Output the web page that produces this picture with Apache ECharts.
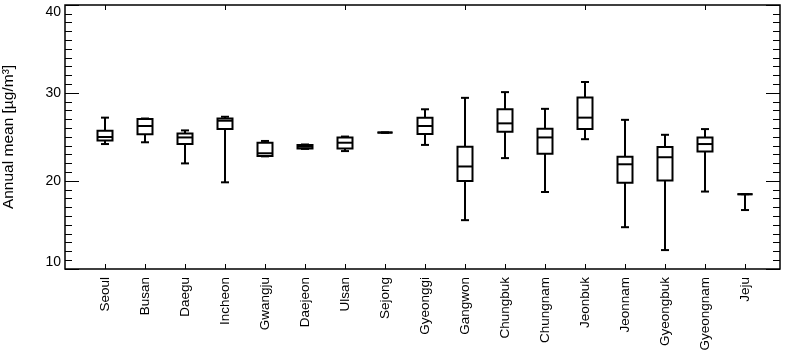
<!DOCTYPE html>
<html>
<head>
<meta charset="utf-8">
<script src="https://cdn.jsdelivr.net/npm/echarts@6/dist/echarts.min.js"></script>
<style>
html,body{margin:0;padding:0;background:#fff;}
#chart{width:787px;height:355px;}
</style>
</head>
<body>
<div id="chart"></div>
<script>
const categories = ['Seoul','Busan','Daegu','Incheon','Gwangju','Daejeon','Ulsan','Sejong','Gyeonggi','Gangwon','Chungbuk','Chungnam','Jeonbuk','Jeonnam','Gyeongbuk','Gyeongnam','Jeju'];
const minVals    = [24.2, 24.4, 22.0, 19.85, 22.8, 23.65, 23.4, 25.5, 24.1, 15.55, 22.6, 18.75, 24.75, 14.75, 12.15, 18.8, 16.7];
const q1Vals     = [24.6, 25.3, 24.2, 25.9, 22.85, 23.7, 23.7, 25.5, 25.35, 20.0, 25.6, 23.1, 25.9, 19.8, 20.05, 23.35, 18.5];
const medianVals = [25.0, 26.25, 24.95, 26.85, 23.15, 23.9, 24.35, 25.5, 26.25, 21.65, 26.55, 24.95, 27.2, 21.9, 22.7, 24.2, 18.5];
const q3Vals     = [25.7, 27.05, 25.4, 27.1, 24.35, 24.1, 24.95, 25.5, 27.2, 23.9, 28.15, 25.95, 29.5, 22.75, 23.85, 24.95, 18.5];
const maxVals    = [27.2, 27.1, 25.75, 27.3, 24.55, 24.15, 25.05, 25.5, 28.15, 29.45, 30.1, 28.2, 31.25, 26.95, 25.25, 25.9, 18.5];
const yTicks = [10, 20, 30, 40];

const boxData = categories.map((c, i) => [i, minVals[i], q1Vals[i], medianVals[i], q3Vals[i], maxVals[i]]);

function renderBox(params, api) {
  const x = api.value(0);
  const pMin = api.coord([x, api.value(1)]);
  const pQ1 = api.coord([x, api.value(2)]);
  const pMed = api.coord([x, api.value(3)]);
  const pQ3 = api.coord([x, api.value(4)]);
  const pMax = api.coord([x, api.value(5)]);
  const cx = pMin[0];
  const bw = 15, cw = 8;
  const st = { stroke: '#000', lineWidth: 2, fill: null };
  const line = (x1, y1, x2, y2) => ({ type: 'line', shape: { x1, y1, x2, y2 }, style: st });
  return {
    type: 'group',
    children: [
      line(cx, pMin[1], cx, pQ1[1]),
      line(cx, pQ3[1], cx, pMax[1]),
      line(cx - cw / 2, pMin[1], cx + cw / 2, pMin[1]),
      line(cx - cw / 2, pMax[1], cx + cw / 2, pMax[1]),
      { type: 'rect', shape: { x: cx - bw / 2, y: pQ3[1], width: bw, height: pQ1[1] - pQ3[1] }, style: st },
      line(cx - bw / 2, pMed[1], cx + bw / 2, pMed[1])
    ]
  };
}

const chart = echarts.init(document.getElementById('chart'), null, { renderer: 'canvas' });
const font = 'Liberation Sans, Arial, sans-serif';
chart.setOption({
  animation: false,
  backgroundColor: '#fff',
  grid: [
    { left: 65, right: 7, top: 5, bottom: 86, containLabel: false, outerBoundsMode: 'none',
      show: true, borderColor: '#000', borderWidth: 1.5, backgroundColor: 'transparent' },
    { left: 85, right: 22, top: 5, bottom: 86, containLabel: false, outerBoundsMode: 'none' }
  ],
  xAxis: [
    { gridIndex: 0, type: 'value', min: 0, max: 1, show: false },
    { gridIndex: 1, type: 'category', data: categories, position: 'bottom',
      axisLine: { show: false },
      axisTick: { show: true, inside: true, length: 5, alignWithLabel: true, lineStyle: { color: '#000', width: 1 } },
      axisLabel: { rotate: 90, margin: 8, color: '#000', fontSize: 13.5, fontFamily: font, interval: 0 },
      splitLine: { show: false } },
    { gridIndex: 1, type: 'category', data: categories, position: 'top',
      axisLine: { show: false },
      axisTick: { show: true, inside: true, length: 5, alignWithLabel: true, lineStyle: { color: '#000', width: 1 } },
      axisLabel: { show: false },
      splitLine: { show: false } }
  ],
  yAxis: [
    { gridIndex: 0, type: 'value', min: yTicks[0], max: yTicks[yTicks.length - 1], interval: 10, position: 'left',
      name: 'Annual mean [µg/m³]', nameLocation: 'middle', nameGap: 48,
      nameTextStyle: { color: '#000', fontSize: 15.5, fontFamily: font },
      axisLine: { show: false },
      axisTick: { show: true, inside: true, length: 14, lineStyle: { color: '#000', width: 1 } },
      minorTick: { show: true, splitNumber: 10, length: 7, lineStyle: { color: '#000', width: 1 } },
      axisLabel: { color: '#000', fontSize: 14, fontFamily: font, margin: 4,
        verticalAlignMinLabel: 'bottom', verticalAlignMaxLabel: 'top' },
      splitLine: { show: false } },
    { gridIndex: 0, type: 'value', min: yTicks[0], max: yTicks[yTicks.length - 1], interval: 10, position: 'right',
      axisLine: { show: false },
      axisTick: { show: true, inside: true, length: 14, lineStyle: { color: '#000', width: 1 } },
      minorTick: { show: true, splitNumber: 10, length: 7, lineStyle: { color: '#000', width: 1 } },
      axisLabel: { show: false },
      splitLine: { show: false } },
    { gridIndex: 1, type: 'value', min: yTicks[0], max: yTicks[yTicks.length - 1], show: false }
  ],
  series: [
    { type: 'custom', xAxisIndex: 1, yAxisIndex: 2, data: boxData, renderItem: renderBox, silent: true, clip: false }
  ]
});
</script>
</body>
</html>
